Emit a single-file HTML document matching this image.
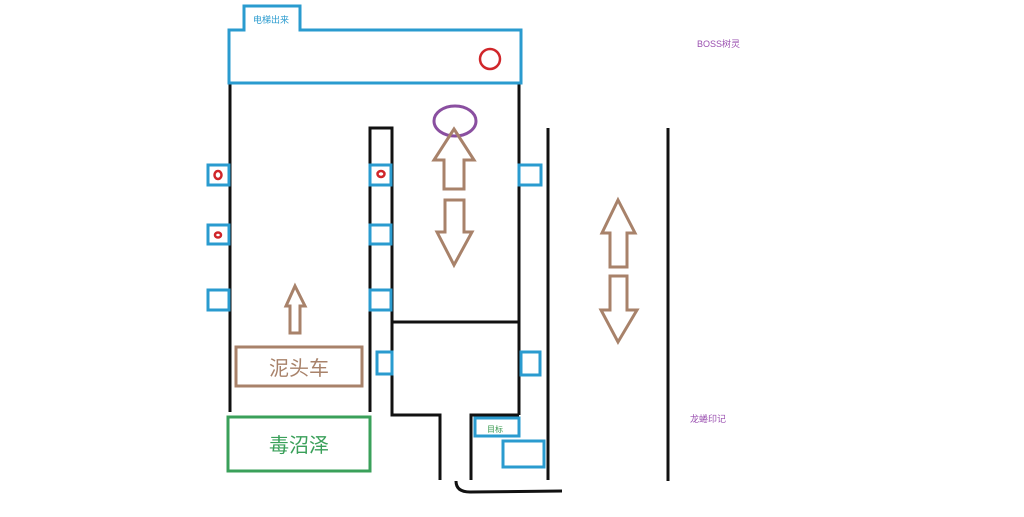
<!DOCTYPE html>
<html><head><meta charset="utf-8"><style>
html,body{margin:0;padding:0;background:#fff;}
svg{display:block;}
text{font-family:"Liberation Sans","Noto Sans CJK SC",sans-serif;}
</style></head><body>
<svg width="1024" height="517" viewBox="0 0 1024 517" xmlns="http://www.w3.org/2000/svg">
<g fill="none" stroke="#111" stroke-width="3">
<line x1="230" y1="83" x2="230" y2="412"/>
<polyline points="370,412 370,128 392,128 392,415 440,415 440,480"/>
<line x1="519" y1="83" x2="519" y2="415"/>
<polyline points="471,480 471,415 519,415"/>
<line x1="548" y1="128" x2="548" y2="480"/>
<line x1="668" y1="128" x2="668" y2="481"/>
<line x1="392" y1="322" x2="519" y2="322"/>
<path d="M456,481 Q456,492 470,492 L562,491"/>
</g>
<g fill="none" stroke="#2a9bcf" stroke-width="3">
<polygon points="229,30 244,30 244,6 300,6 300,30 521,30 521,83 229,83"/>
<rect x="208" y="165" width="21" height="20"/>
<rect x="208" y="225" width="21" height="19"/>
<rect x="208" y="290" width="21" height="20"/>
<rect x="370" y="165" width="21" height="20"/>
<rect x="370" y="225" width="21" height="19"/>
<rect x="370" y="290" width="21" height="20"/>
<rect x="377" y="352" width="15" height="22"/>
<rect x="519" y="165" width="22" height="20"/>
<rect x="521" y="352" width="19" height="23"/>
<rect x="475" y="418" width="44" height="18"/>
<rect x="503" y="441" width="41" height="26"/>
</g>
<text x="253" y="23" font-size="9" fill="#2a9bcf">电梯出来</text>
<text x="487" y="432" font-size="8" fill="#3a9a50">目标</text>
<g fill="none" stroke="#d0262a" stroke-width="2.5">
<circle cx="490" cy="59" r="10"/>
<ellipse cx="218" cy="175" rx="3.5" ry="4"/>
<ellipse cx="218" cy="235" rx="3" ry="2.5"/>
<ellipse cx="381" cy="174" rx="3.5" ry="3"/>
</g>
<ellipse cx="455" cy="121" rx="21" ry="15" fill="none" stroke="#8a4fa0" stroke-width="3"/>
<g fill="none" stroke="#a8826a" stroke-width="3">
<polygon points="454,129 474,160 464,160 464,189 444,189 444,160 434,160"/>
<polygon points="445,200 464,200 464,232 472,232 454,265 437,232 445,232"/>
<polygon points="295,286 305,306 300,306 300,333 290,333 290,306 286,306"/>
<polygon points="618,200 635,233 627,233 627,267 610,267 610,233 602,233"/>
<polygon points="610,276 627,276 627,310 637,310 618,342 601,310 610,310"/>
<rect x="236" y="347" width="126" height="39"/>
</g>
<text x="299" y="375" font-size="20" fill="#a8826a" text-anchor="middle">泥头车</text>
<rect x="228" y="417" width="142" height="54" fill="none" stroke="#3aa05a" stroke-width="3"/>
<text x="299" y="452" font-size="20" fill="#3aa05a" text-anchor="middle">毒沼泽</text>
<text x="697" y="47" font-size="9" fill="#9a4fb0">BOSS树灵</text>
<text x="690" y="422" font-size="9" fill="#9a4fb0">龙蜷印记</text>
</svg>
</body></html>
